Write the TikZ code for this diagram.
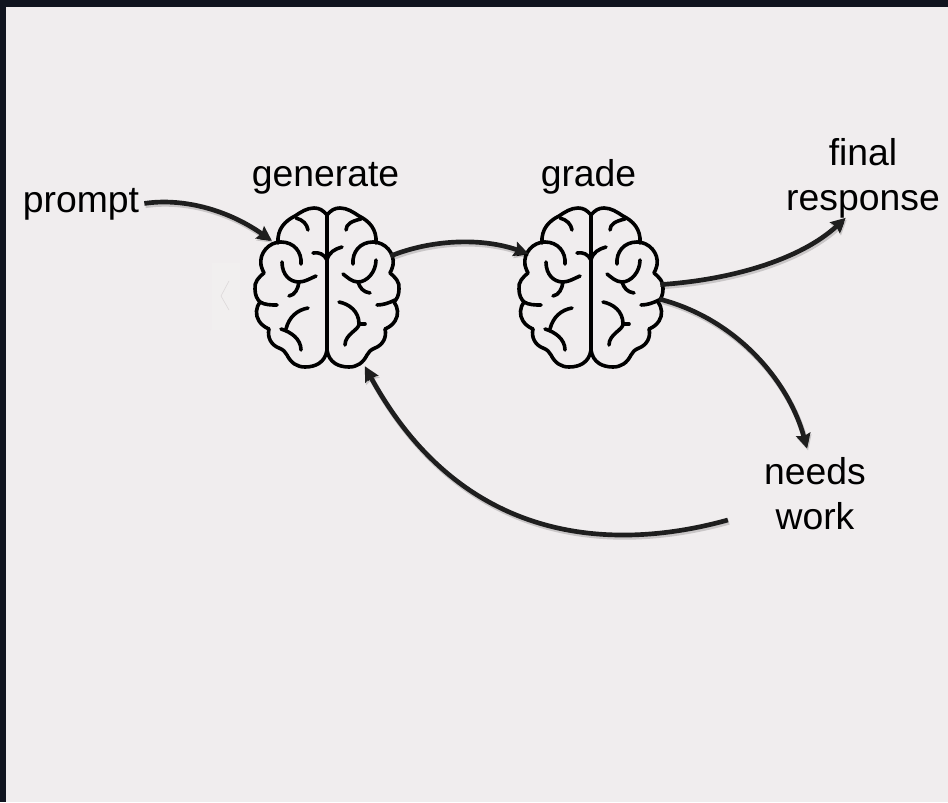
\documentclass[tikz,border=0pt]{standalone}
\usepackage{fontspec}
\setmainfont{Liberation Sans}
\usetikzlibrary{arrows.meta,shapes.geometric}
\definecolor{framedark}{RGB}{16,20,31}
\definecolor{pagelight}{RGB}{240,237,238}
\definecolor{flowdark}{RGB}{30,30,30}
\tikzset{
	caption/.style={font=\fontsize{28}{33.75}\selectfont,inner sep=0.75pt,align=center},
	brainarea/.style={ellipse,minimum width=103.5pt,minimum height=114pt,inner sep=0pt},
	flow/.style={draw=flowdark,line width=3.5pt,-{Stealth[length=11pt,width=11pt,inset=1.5pt]},
		preaction={draw=black,draw opacity=0.16,line width=4pt,transform canvas={shift={(0.8pt,-1.5pt)}}}},
	brainline/.style={line width=2.7pt,line cap=round,line join=round},
	brain/.pic={
		% outline, one half mirrored
		\foreach \side in {1,-1}{
			\draw [brainline,xscale=\side] (0,-72) .. controls (-4,-77) and (-8,-79) .. (-13,-79) .. controls (-20,-79) and (-26,-75) .. (-32,-71) .. controls (-42,-66) and (-50,-58) .. (-49,-44) ;
			\draw [brainline,xscale=\side] (-26,-23) .. controls (-25,-35) and (-33,-45) .. (-46,-45) .. controls (-58,-45) and (-68,-34) .. (-66,-22) .. controls (-65,-18) and (-64,-16) .. (-63,-14) .. controls (-68,-10) and (-73,-5) .. (-72,2) .. controls (-72,8) and (-70,12) .. (-67,15) .. controls (-71,20) and (-72,28) .. (-68,34) .. controls (-65,39) and (-60,41) .. (-58,42) .. controls (-60,50) and (-56,58) .. (-48,61) .. controls (-43,63) and (-42,65) .. (-40,68) .. controls (-36,76) and (-30,80) .. (-22,80) .. controls (-12,80) and (-2,76) .. (0,63) ;
		}
		\draw [brainline] (0,-72) -- (0,63) ;
		% left folds
		\draw [brainline] (-31,-69) .. controls (-24,-67) and (-20,-63) .. (-19,-57) ;
		\draw [brainline] (-45,-25) .. controls (-45,-12) and (-37,-5) .. (-28,-5) .. controls (-22,-5) and (-16,-9) .. (-11,-11) ;
		\draw [brainline] (-28,-5) .. controls (-29,2) and (-32,8) .. (-38,9) ;
		\draw [brainline] (-67,15) .. controls (-62,18) and (-56,18) .. (-50,18) ;
		\draw [brainline] (-19,21) .. controls (-30,23) and (-38,30) .. (-41,42) ;
		\draw [brainline] (-46,42) .. controls (-36,45) and (-26,52) .. (-26,63) ;
		\draw [brainline] (-14,-34) .. controls (-8,-35) and (-3,-33) .. (0,-27) ;
		% right folds
		\draw [brainline] (19,-57) .. controls (19,-63) and (25,-66) .. (34,-68) ;
		\draw [brainline] (49,-27) .. controls (49,-15) and (40,-5) .. (31,-5) .. controls (25,-5) and (20,-10) .. (16,-13) ;
		\draw [brainline] (31,-5) .. controls (33,1) and (36,5) .. (43,6) ;
		\draw [brainline] (50,18) .. controls (56,18) and (62,16) .. (68,13) ;
		\draw [brainline] (12,15) .. controls (22,17) and (32,24) .. (32,37) .. controls (32,43) and (18,47) .. (18,58) ;
		\draw [brainline] (32,37) -- (38,37) ;
		\draw [brainline] (15,-40) .. controls (8,-38) and (2,-35) .. (0,-27) ;
	}
}
\begin{document}
\begin{tikzpicture}[x=0.75pt,y=0.75pt,yscale=-1,xscale=1]
	\useasboundingbox (0,0) rectangle (948,802);
	\fill [framedark] (0,0) rectangle (948,802);
	\fill [pagelight] (6,7) rectangle (948,802);
	\fill [color={rgb, 255:red, 241; green, 239; blue, 239 }] (212,263) rectangle (240,330);
	\draw [color={rgb, 255:red, 222; green, 218; blue, 219 },line width=0.5pt] (229,281) -- (221,296) -- (229,310);
	\node [brainarea] (generatebrain) at (327,287) {};
	\node [brainarea] (gradebrain) at (591,287) {};
	\pic [transform shape] at (generatebrain) {brain};
	\pic [transform shape] at (gradebrain) {brain};
	\node [caption,anchor=base] (prompt) at (81,213) {prompt};
	\node [caption,anchor=base] (generate) at (325.5,187) {generate};
	\node [caption,anchor=base] (grade) at (588.5,187) {grade};
	\node [caption] (finalresponse) at (863,178) {final\\response};
	\node [caption] (needswork) at (815,494) {needs\\work};
	\draw [flow] ([xshift=3pt,yshift=-1pt]prompt.east) .. controls (180,198) and (225,208) .. (generatebrain.140);
	\draw [flow] (generatebrain.26) .. controls (430,240) and (480,237) .. (gradebrain.152);
	\draw [flow] (gradebrain.2) .. controls (730,280) and (800,260) .. ([xshift=-13pt,yshift=-1pt]finalresponse.south);
	\draw [flow] (gradebrain.-10) .. controls (740,320) and (790,385) .. ([xshift=-6pt,yshift=-6pt]needswork.north);
	\draw [flow] ([shift={(-35,26)}]needswork.west) .. controls (620,550) and (465,550) .. ([shift={(5,12)}]generatebrain.-64);
\end{tikzpicture}
\end{document}
